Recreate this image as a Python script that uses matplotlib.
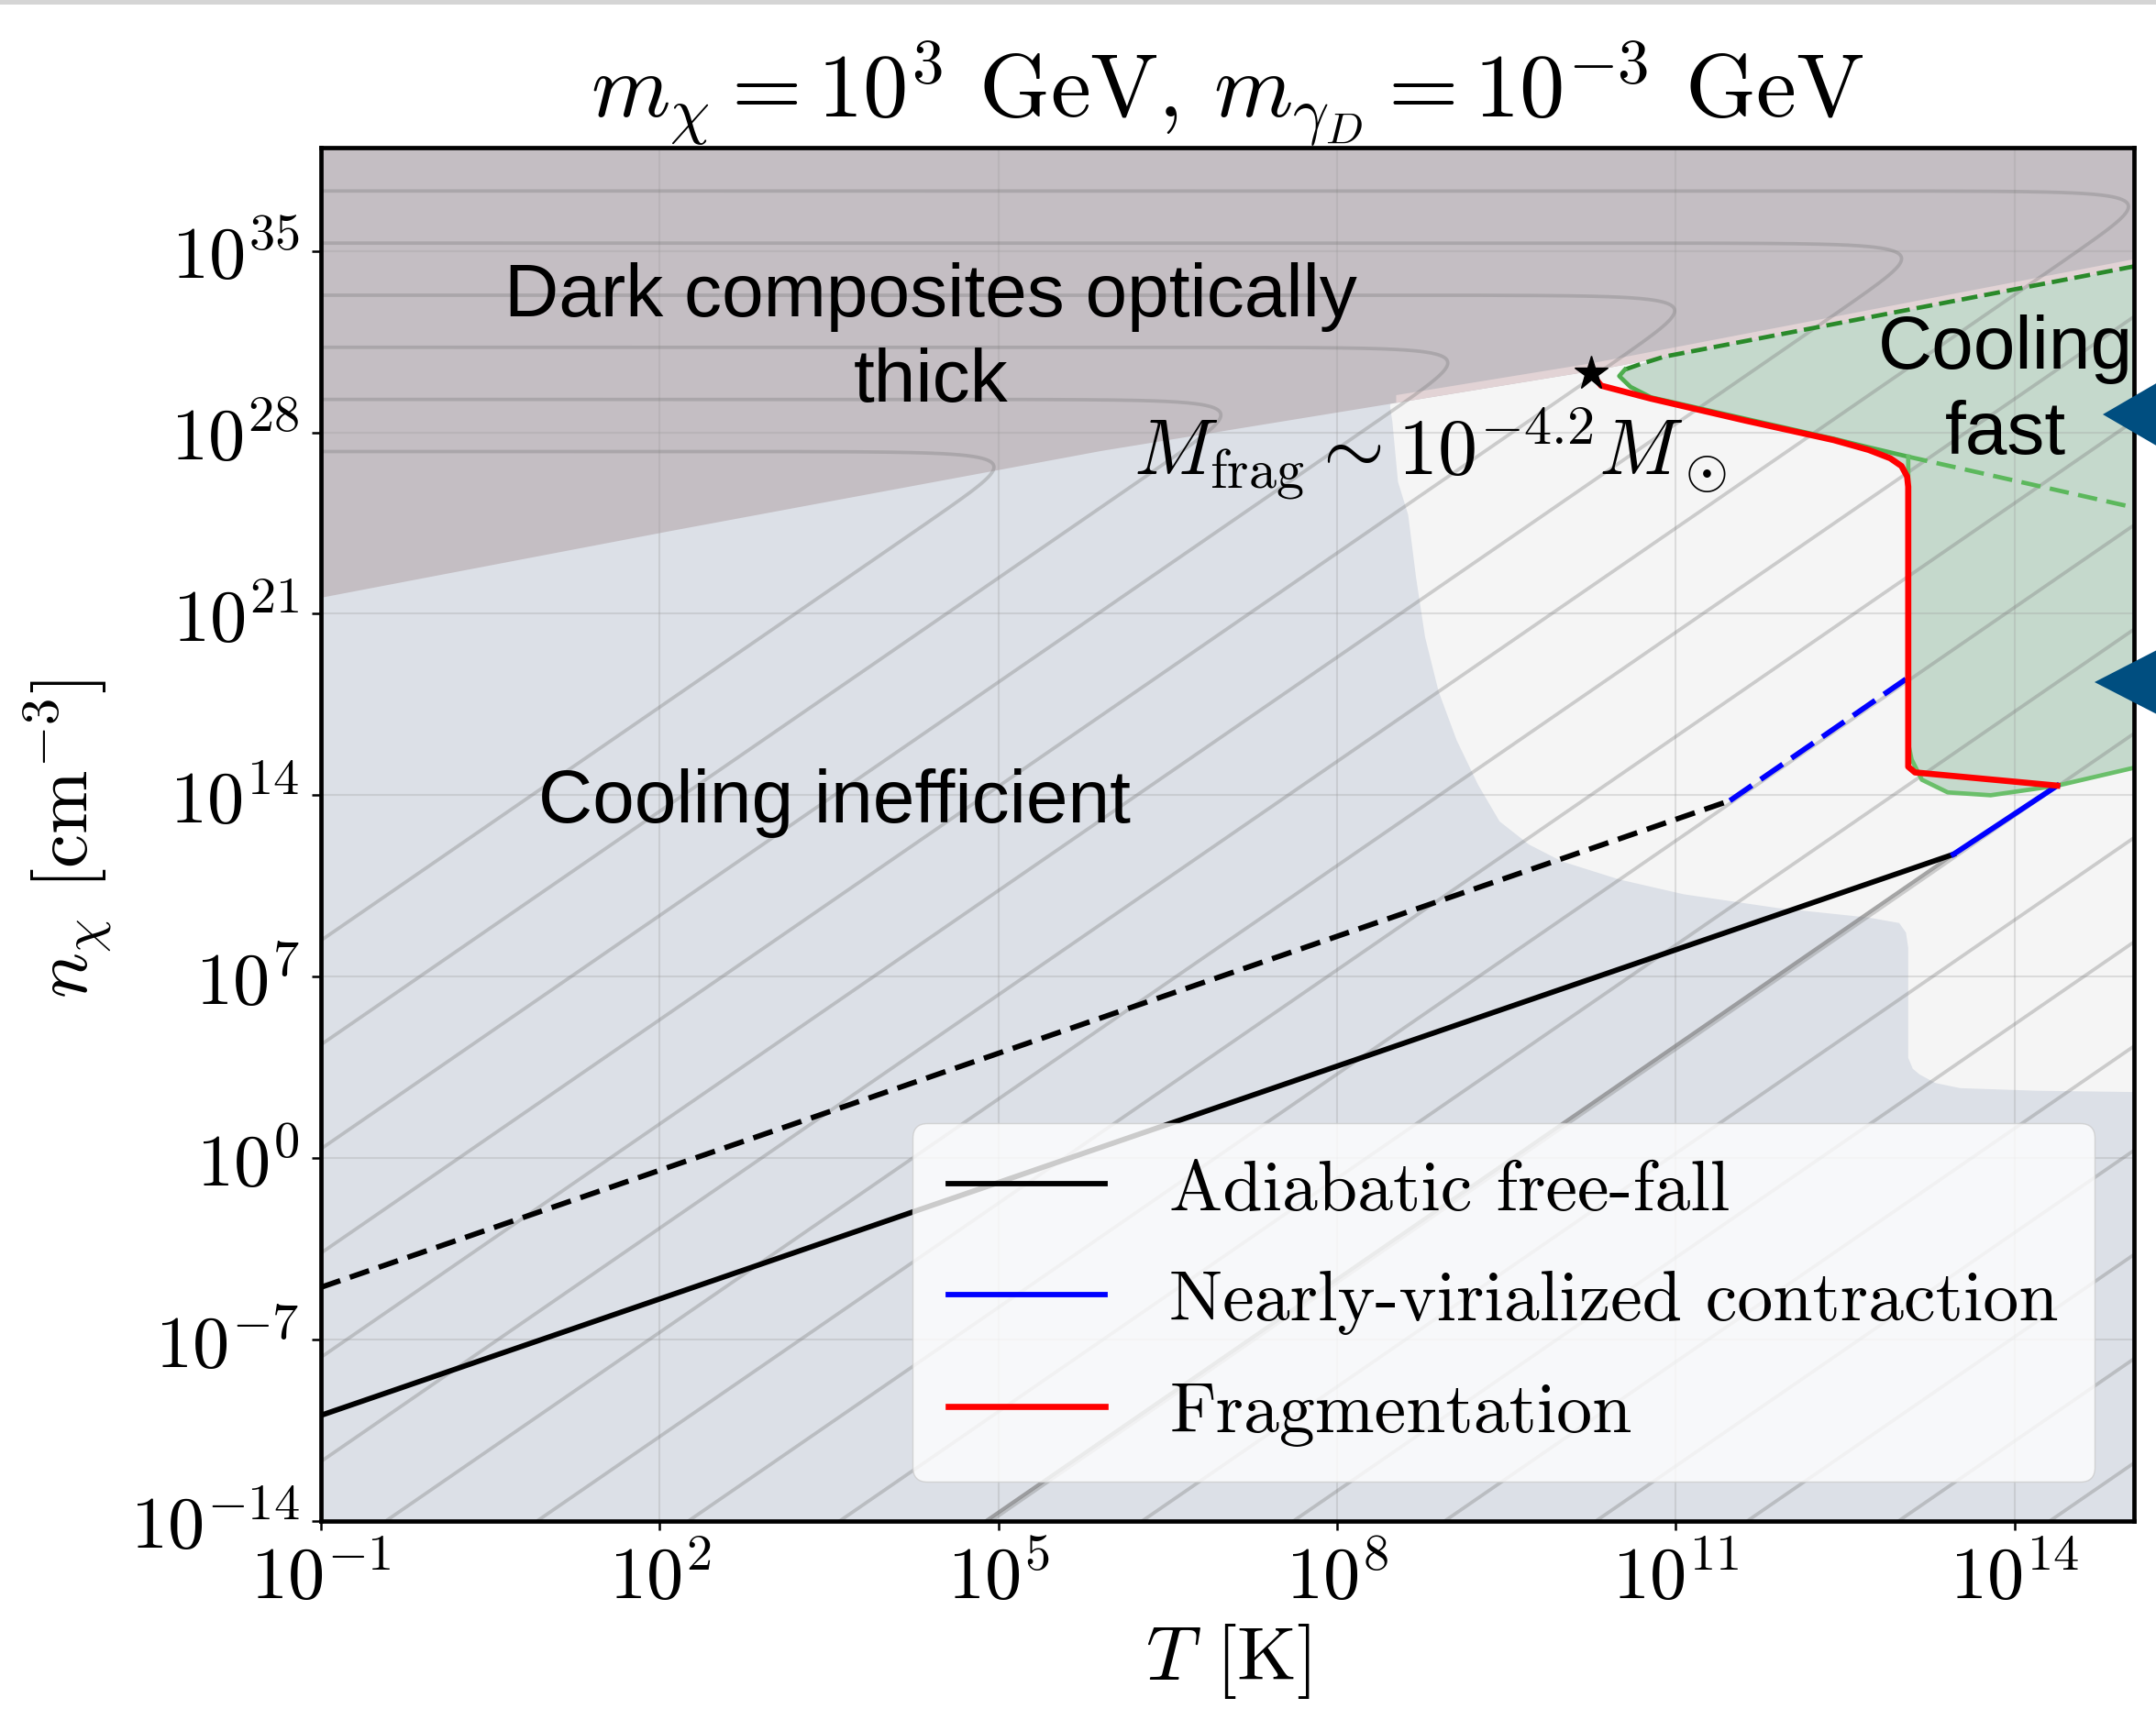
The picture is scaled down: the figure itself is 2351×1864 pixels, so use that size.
import numpy as np
import matplotlib
matplotlib.use("Agg")
import matplotlib.pyplot as plt
from matplotlib.patches import Polygon, Rectangle
from matplotlib.ticker import FixedLocator, FixedFormatter, NullLocator

plt.rcParams['mathtext.fontset'] = 'cm'
plt.rcParams['font.family'] = ['cmr10', 'DejaVu Serif']
plt.rcParams['axes.formatter.use_mathtext'] = True

# all values are log10 of T [K] and n [cm^-3]
logT_lim = (-1.0, 15.06)
logn_lim = (-14.0, 38.98)

xticks = [-1, 2, 5, 8, 11, 14]
xtick_labels = [r'$10^{-1}$', r'$10^{2}$', r'$10^{5}$', r'$10^{8}$',
                r'$10^{11}$', r'$10^{14}$']
yticks = [-14, -7, 0, 7, 14, 21, 28, 35]
ytick_labels = [r'$10^{-14}$', r'$10^{-7}$', r'$10^{0}$', r'$10^{7}$',
                r'$10^{14}$', r'$10^{21}$', r'$10^{28}$', r'$10^{35}$']

# lower edge of the optically thick region
thick_T = [-1.0, 2.08, 5.91, 10.25, 15.06]
thick_n = [21.64, 24.2, 27.3, 30.38, 34.4]
pink_T = [8.52, 10.25, 15.06]
pink_width = 0.3

# region where cooling is not inefficient (white)
white_T = [8.56, 8.49, 8.47, 8.49, 8.54, 8.63, 8.70, 8.78, 8.90, 9.06, 9.25, 9.44,
           9.70, 9.99, 10.5, 11.07, 11.9, 12.71, 12.98, 13.04, 13.06, 13.06,
           13.10, 13.16, 13.30, 13.52, 14.2, 15.06, 15.06]
white_n = [29.9, 29.6, 29.0, 28.42, 26.09, 24.82, 22.4, 20.10, 18.0, 16.12, 14.4, 12.99,
           12.1, 11.45, 10.75, 10.18, 9.65, 9.28, 9.07, 8.7, 8.11, 3.87,
           3.45, 3.23, 2.9, 2.70, 2.6, 2.55, 35.0]

# cooling fast (green) region
green_T = [10.50, 10.55, 10.68, 10.9, 15.06, 15.06, 14.38, 13.79, 13.41, 13.18,
           13.09, 13.06, 13.06, 12.95, 12.71, 12.40, 11.62, 10.78, 10.6]
green_n = [30.17, 30.42, 30.62, 30.92, 34.4, 15.06, 14.37, 14.0, 14.11, 14.6,
           15.38, 16.0, 26.4, 26.9, 27.35, 27.72, 28.5, 29.35, 29.75]
green_top_T = [10.55, 10.68, 10.9, 15.06]
green_top_n = [30.42, 30.62, 30.92, 34.4]
green_low_T = [10.55, 10.50, 10.6, 10.78, 11.62, 12.40, 12.71, 13.06]
green_low_n = [30.42, 30.17, 29.75, 29.35, 28.52, 27.75, 27.42, 27.06]
green_inner_T = [13.06, 15.06]
green_inner_n = [27.06, 25.1]
green_bot_T = [13.06, 13.06, 13.09, 13.18, 13.41, 13.79, 14.38, 15.06]
green_bot_n = [27.06, 16.0, 15.38, 14.6, 14.11, 14.0, 14.37, 15.06]

# gray mass contours: log n = 3 log T + c, turning over at log n = h
contour_c = [11.4, 7.38, 3.36, -0.66, -4.68, -8.7, -12.72, -16.74, -20.76,
             -24.78, -28.8, -32.82, -36.84, -40.86, -44.88, -48.9, -52.92, -56.94]
contour_h = [27.26, 29.27, 31.28, 33.29, 35.3, 37.31]
bend_width = 1.0

# trajectories
adiab_T = [-1.0, 13.46]
adiab_n = [-9.92, 11.72]
adiab_dash_T = [-1.0, 11.48]
adiab_dash_n = [-4.98, 13.79]
virial_T = [13.46, 14.38]
virial_n = [11.72, 14.37]
virial_dash_T = [11.48, 13.05]
virial_dash_n = [13.79, 18.51]
track_T = [4.89, 13.46]
track_n = [-14.0, 11.72]
frag_T = [10.25, 10.34, 10.78, 11.62, 12.40, 12.71, 12.9, 13.0, 13.05, 13.06,
          13.06, 13.12, 14.38]
frag_n = [30.28, 29.8, 29.3, 28.45, 27.7, 27.32, 27.0, 26.7, 26.3, 25.9,
          15.1, 14.88, 14.37]
star_T, star_n = 10.25, 30.28

# slide arrows on the right edge (figure pixels)
arrows_px = [[(2293, 453), (2420, 379), (2420, 527)],
             [(2284, 745), (2420, 675), (2420, 815)]]

W, H = 2351, 1865


def lg(a):
    return 10.0 ** np.asarray(a, dtype=float)


fig = plt.figure(figsize=(W / 100, H / 100), dpi=100)
ax = fig.add_axes([0.1489, 0.1099, 0.8409, 0.8032])
ax.set_facecolor('#dce0e7')
ax.set_xscale('log')
ax.set_yscale('log')
ax.set_xlim(lg(logT_lim[0]), lg(logT_lim[1]))
ax.set_ylim(lg(logn_lim[0]), lg(logn_lim[1]))

# regions
ax.fill(lg(white_T), lg(white_n), color='#f5f5f5', lw=0, zorder=0.1)
ax.fill(lg(green_T), lg(green_n), color='#c5d9cc', lw=0, zorder=0.2)
ax.fill_between(lg(thick_T), lg(thick_n), 1e45, color='#c4bec3', lw=0, zorder=0.3)
pink_lo = np.interp(pink_T, thick_T, thick_n)
ax.fill_between(lg(pink_T), lg(pink_lo), lg(pink_lo + pink_width),
                color='#e2d3d5', lw=0, zorder=0.35)

# green outlines
ax.plot(lg(green_top_T), lg(green_top_n), color='#2a8a2a', lw=3.4, ls='--', zorder=1.5)
ax.plot(lg(green_low_T), lg(green_low_n), color='#4fae4f', lw=3.4, zorder=1.5)
ax.plot(lg(green_inner_T), lg(green_inner_n), color='#5cb85c', lw=3.4,
        dashes=(4.5, 2.2), zorder=1.5)
ax.plot(lg(green_bot_T), lg(green_bot_n), color='#6abf6a', lw=3.4, zorder=1.5)

# contours
for i, c in enumerate(contour_c):
    if i < len(contour_h):
        h = contour_h[i]
        d = np.geomspace(1e-13, 80, 900)
        y = h - d
        x = (y - c) / 3 + bend_width * np.log10(-np.expm1(-d * np.log(10) / bend_width))
        x = np.concatenate([[-5.0], x])
        y = np.concatenate([[h], y])
    else:
        y = np.array([-20.0, 45.0])
        x = (y - c) / 3
    ax.plot(lg(x), lg(y), color='#7a7a7a', alpha=0.34, lw=2.7, zorder=1.0)
ax.plot(lg(track_T), lg(track_n), color='#7a7a7a', alpha=0.65, lw=2.9, zorder=1.1)

# trajectories
ax.plot(lg(adiab_T), lg(adiab_n), color='black', lw=4.2, zorder=3,
        label='Adiabatic free-fall')
ax.plot(lg(adiab_dash_T), lg(adiab_dash_n), color='black', lw=4.2,
        dashes=(3.8, 1.9), zorder=3)
ax.plot(lg(virial_T), lg(virial_n), color='blue', lw=4.2, zorder=3,
        label='Nearly-virialized contraction')
ax.plot(lg(virial_dash_T), lg(virial_dash_n), color='blue', lw=4.2,
        dashes=(5, 2), zorder=3)
ax.plot(lg(frag_T), lg(frag_n), color='red', lw=4.8, zorder=3,
        label='Fragmentation')
ax.plot(lg([star_T]), lg([star_n]), marker='*', color='black', ms=28, ls='none', zorder=4)

# axes styling
ax.xaxis.set_major_locator(FixedLocator(lg(xticks)))
ax.xaxis.set_major_formatter(FixedFormatter(xtick_labels))
ax.yaxis.set_major_locator(FixedLocator(lg(yticks)))
ax.yaxis.set_major_formatter(FixedFormatter(ytick_labels))
ax.xaxis.set_minor_locator(NullLocator())
ax.yaxis.set_minor_locator(NullLocator())
ax.tick_params(direction='out', length=7, width=1.8, labelsize=58)
ax.tick_params(axis='x', pad=11)
ax.tick_params(axis='y', pad=10)
for s in ax.spines.values():
    s.set_linewidth(3.4)
ax.set_axisbelow(True)
ax.grid(True, color='#a0a0a0', alpha=0.3, lw=1.5)

ax.set_title(r'$m_\chi = 10^3$ GeV, $m_{\gamma_D} = 10^{-3}$ GeV', fontsize=71, pad=21)
ax.set_xlabel(r'$T$ [K]', fontsize=60)
ax.set_ylabel(r'$n_\chi$ [cm$^{-3}$]', fontsize=60)
ax.xaxis.set_label_coords(0.5, -0.073)
ax.yaxis.set_label_coords(-0.115, 0.497)

# annotations
sans = dict(family='Liberation Sans', fontsize=59, ha='center', va='baseline',
            transform=ax.transAxes, zorder=5)
ax.text(0.3364, 0.8778, 'Dark composites optically', **sans)
ax.text(0.3364, 0.8158, 'thick', **sans)
ax.text(0.2833, 0.5093, 'Cooling inefficient', **sans)
ax.text(0.9292, 0.8398, 'Cooling', **sans)
ax.text(0.9292, 0.7777, 'fast', **sans)
ax.text(0.612, 0.7627, r'$M_{\rm frag} \sim 10^{-4.2} M_\odot$', fontsize=62,
        ha='center', va='baseline', transform=ax.transAxes, zorder=5)

leg = ax.legend(loc='lower right', bbox_to_anchor=(0.978, 0.0287), borderaxespad=0,
                fontsize=56, handlelength=2.2, handletextpad=0.9, labelspacing=0.66,
                borderpad=0.5, framealpha=0.8, edgecolor='#cccccc')
leg.set_zorder(6)

# screenshot decorations
fig.patches.append(Rectangle((0, 1 - 6 / H), 1, 6 / H, transform=fig.transFigure,
                             color='#d5d5d5', lw=0))
for tri in arrows_px:
    pts = [(x / W, 1 - y / H) for x, y in tri]
    fig.patches.append(Polygon(pts, closed=True, transform=fig.transFigure,
                               color='#004e80', lw=0))

fig.savefig('out.png', dpi=100)
